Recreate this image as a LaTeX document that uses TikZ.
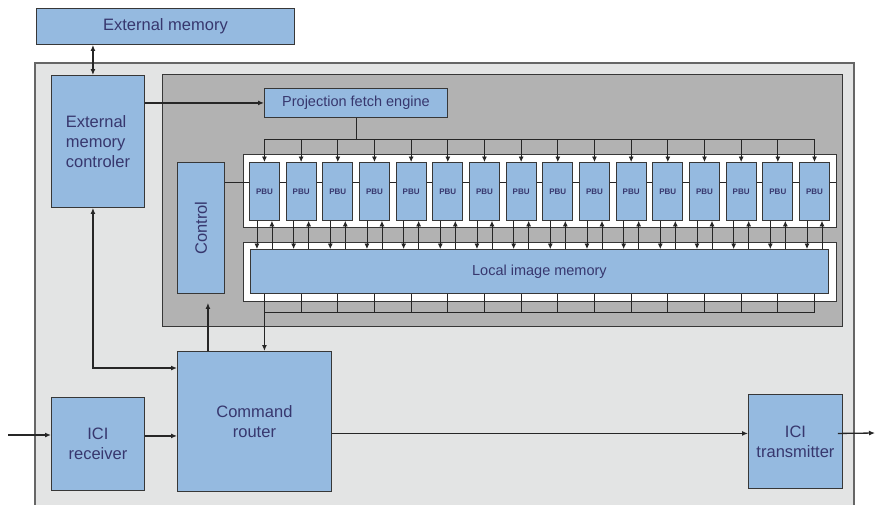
\documentclass[tikz,border=0pt]{standalone}
\usepackage{fontspec}
\setmainfont{Liberation Sans}
\usetikzlibrary{arrows.meta,positioning,calc}
\definecolor{boxblue}{RGB}{149,186,224}
\definecolor{chipgray}{RGB}{227,228,228}
\definecolor{coregray}{RGB}{178,178,178}
\definecolor{edgegray}{RGB}{55,55,55}
\definecolor{labelnavy}{RGB}{55,55,110}

\begin{document}
\begin{tikzpicture}[x=1pt,y=-1pt,
  every node/.style={font=\fontsize{16.5}{20}\selectfont,text=labelnavy},
  blk/.style={draw=edgegray,line width=0.9pt,fill=boxblue,inner sep=0pt,anchor=north west},
  pbu/.style={blk,minimum width=30pt,minimum height=58pt,font=\fontsize{8}{8}\selectfont\bfseries},
  link/.style={line width=1.3pt,draw=black!85,-{Latex[length=6pt,width=5pt]}},
  wire/.style={line width=0.8pt,draw=black!85},
  tick/.style={wire,-{Latex[length=5.5pt,width=5pt]}}]
  \clip (0,0) rectangle (875,504);
  \fill[white] (0,0) rectangle (875,504);

  % chip and core backgrounds
  \draw[fill=chipgray,draw=black!60,line width=1.4pt] (35,63) rectangle (854,530);
  \draw[fill=coregray,draw=edgegray,line width=1pt] (162,74) rectangle (842,326);
  \draw[fill=white,draw=edgegray,line width=0.8pt] (243,154) rectangle (836,227);
  \draw[fill=white,draw=edgegray,line width=0.8pt] (243,242) rectangle (836,301);

  \node[blk,minimum width=258pt,minimum height=36pt] (extmem) at (36,8) {External memory};
  \node[blk,minimum width=93pt,minimum height=132pt,align=left] (emc) at (51,75) {External\\memory\\controler};
  \node[blk,minimum width=183pt,minimum height=29pt,font=\fontsize{14.5}{17}\selectfont] (pfe) at (264,88) {Projection fetch engine};
  \node[blk,minimum width=47pt,minimum height=131pt] (control) at (177,162) {};
  \node[rotate=90] at (control.center) {Control};
  \node[blk,minimum width=578pt,minimum height=44pt,font=\fontsize{14.5}{17}\selectfont] (lim) at (250,249) {Local image memory};
  \node[blk,minimum width=154pt,minimum height=140pt,align=center] (router) at (177,351) {Command\\router};
  \node[blk,minimum width=93pt,minimum height=93pt,align=center] (rx) at (51,397) {ICI\\receiver};
  \node[blk,minimum width=94pt,minimum height=94pt,align=center] (tx) at (748,394) {ICI\\transmitter};

  \coordinate (chain) at (836,182);
  \coordinate (busin) at (0,139);
  \coordinate (busout) at (0,312);
  \coordinate (in) at (8,435);
  \coordinate (out) at (875,433);

  % control chain behind the PBUs
  \draw[wire] (control.east |- chain) -- (chain);

  \foreach \i in {1,...,16}{
    \pgfmathsetmacro\px{249+36.67*(\i-1)}
    \node[pbu] (p\i) at (\px,162) {PBU};
  }

  % projection bus
  \draw[wire] (pfe.south) -- (pfe.south |- busin);
  \draw[wire] (p1.north |- busin) -- (p16.north |- busin);
  \foreach \i in {1,...,16}{
    \draw[tick] (p\i.north |- busin) -- (p\i.north);
    \draw[tick] ([xshift=-7.5pt]p\i.south) -- ([xshift=-7.5pt]p\i.south |- lim.north);
    \draw[tick] ([xshift=7.5pt]p\i.south |- lim.north) -- ([xshift=7.5pt]p\i.south);
    \draw[wire] (p\i.south |- lim.south) -- (p\i.south |- busout);
  }
  \draw[wire] (p1.south |- busout) -- (p16.south |- busout);

  \draw[link,{Latex[length=6pt,width=5pt]}-{Latex[length=6pt,width=5pt]}] ([xshift=-5pt]emc.north) -- ([xshift=-5pt]emc.north |- extmem.south);
  \draw[link] (emc.east |- pfe.west) -- (pfe.west);
  \draw[link] (p1.south |- busout) -- (p1.south |- router.north);
  \draw[link,shorten >=9pt] ([xshift=7pt]control.south |- router.north) -- ([xshift=7pt]control.south);
  \draw[link,{Latex[length=6pt,width=5pt]}-{Latex[length=6pt,width=5pt]}] ([xshift=-5pt]emc.south) |- ([yshift=-17pt]router.north west);
  \draw[link] (in) -- (in -| rx.west);
  \draw[link] ([yshift=8pt]rx.east) -- ([yshift=8pt]rx.east -| router.west);
  \draw[link] ([yshift=8pt]tx.west -| router.east) -- ([yshift=8pt]tx.west);
  \draw[link] ([yshift=8pt,xshift=-5pt]tx.east) -- (out);
\end{tikzpicture}
\end{document}
